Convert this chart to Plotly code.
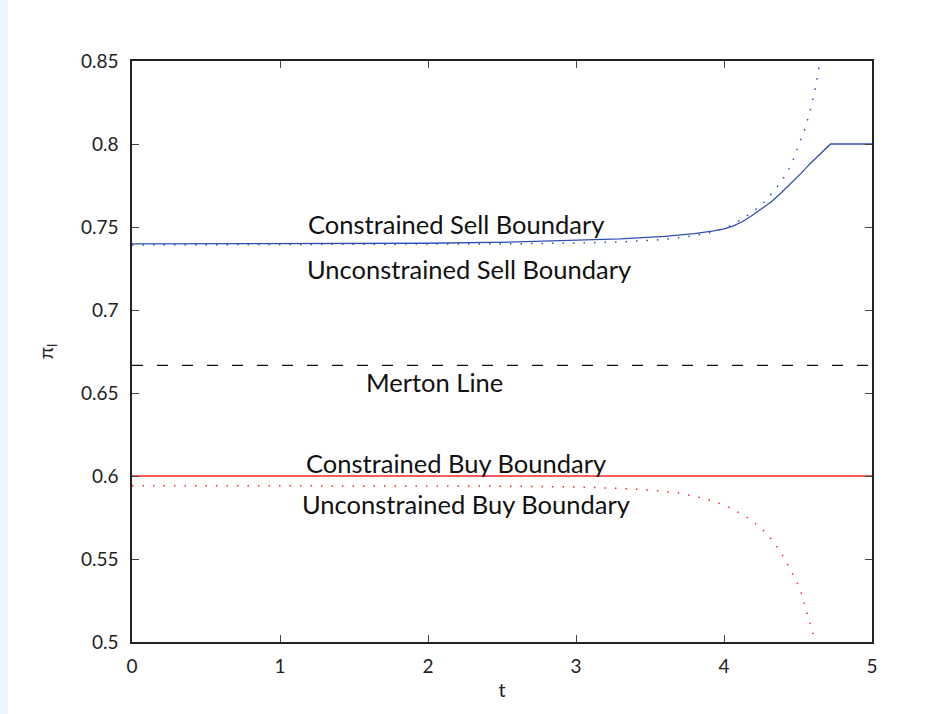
import plotly.graph_objects as go

# Time grid and boundary values (fraction of wealth in the risky asset)
t_sell_con = [0, 1, 2, 2.6, 3.0, 3.3, 3.6, 3.8, 3.93, 4.0, 4.06, 4.12, 4.18, 4.25,
              4.32, 4.38, 4.45, 4.52, 4.58, 4.65, 4.72, 5.0]
sell_con = [0.7398, 0.7399, 0.7402, 0.7410, 0.7418, 0.7428, 0.7444, 0.7460, 0.7476,
            0.7489, 0.7505, 0.7530, 0.7563, 0.7607, 0.7652, 0.7700, 0.7760, 0.7823,
            0.7880, 0.7940, 0.8000, 0.8000]

t_sell_unc = [0, 1, 2, 2.6, 3.0, 3.3, 3.6, 3.8, 3.9, 4.0, 4.07, 4.14, 4.2, 4.28, 4.36,
              4.42, 4.46, 4.51, 4.55, 4.58, 4.615, 4.65]
sell_unc = [0.7392, 0.7393, 0.7395, 0.7399, 0.7403, 0.7410, 0.7425, 0.7448, 0.7465,
            0.7490, 0.7520, 0.7558, 0.7596, 0.7657, 0.7743, 0.7820, 0.7887, 0.8000,
            0.8100, 0.8195, 0.8325, 0.8506]

t_merton = [0, 5]
merton = [2 / 3, 2 / 3]

t_buy_con = [0, 5]
buy_con = [0.6, 0.6]

t_buy_unc = [0, 1, 2, 2.5, 3.0, 3.16, 3.365, 3.556, 3.687, 3.815, 3.912, 4.032, 4.144,
             4.243, 4.327, 4.396, 4.459, 4.516, 4.563, 4.599, 4.615]
buy_unc = [0.5942, 0.5942, 0.5941, 0.5939, 0.5934, 0.5930, 0.5923, 0.5911, 0.5898,
           0.5875, 0.5854, 0.5813, 0.5759, 0.5693, 0.5613, 0.5520, 0.5420, 0.5313,
           0.5177, 0.5058, 0.5000]

x_ticks = [0, 1, 2, 3, 4, 5]
y_ticks = [0.5, 0.55, 0.6, 0.65, 0.7, 0.75, 0.8, 0.85]
y_tick_text = ["0.5", "0.55", "0.6", "0.65", "0.7", "0.75", "0.8", "0.85"]

BLUE = "#2f4fb0"
RED = "#f02828"
FONT = "Lato"

fig = go.Figure()
fig.add_trace(go.Scatter(x=t_sell_unc, y=sell_unc, mode="lines",
                         line=dict(color=BLUE, width=1.5, dash="1.5px,9px")))
fig.add_trace(go.Scatter(x=t_sell_con, y=sell_con, mode="lines",
                         line=dict(color=BLUE, width=1.3)))
fig.add_trace(go.Scatter(x=t_merton, y=merton, mode="lines",
                         line=dict(color="#111111", width=1.1, dash="11px,14px")))
fig.add_trace(go.Scatter(x=t_buy_unc, y=buy_unc, mode="lines",
                         line=dict(color=RED, width=1.5, dash="1.5px,9px")))
fig.add_trace(go.Scatter(x=t_buy_con, y=buy_con, mode="lines",
                         line=dict(color=RED, width=1.3)))

labels = [
    ("Constrained Sell Boundary", 2.186, 0.7521),
    ("Unconstrained Sell Boundary", 2.274, 0.7250),
    ("Merton Line", 2.044, 0.6568),
    ("Constrained Buy Boundary", 2.186, 0.6081),
    ("Unconstrained Buy Boundary", 2.26, 0.5831),
]
for text, x, y in labels:
    fig.add_annotation(x=x, y=y, text=text, showarrow=False,
                       xanchor="center", yanchor="middle",
                       font=dict(family=FONT, size=25.5, color="#111111"))

# light frame strip along the left and top edges of the page
fig.add_shape(type="rect", xref="paper", yref="paper",
              x0=-132 / 740, x1=-124 / 740, y0=-72 / 581, y1=653 / 581,
              fillcolor="#eef6fd", line=dict(width=0), layer="below")
fig.add_shape(type="rect", xref="paper", yref="paper",
              x0=-132 / 740, x1=813 / 740, y0=648 / 581, y1=653 / 581,
              fillcolor="#f3f9fe", line=dict(width=0), layer="below")

axis_common = dict(
    showgrid=False, zeroline=False, showline=True, linecolor="#222222",
    linewidth=1.5, mirror="allticks", ticks="inside", ticklen=7,
    tickwidth=1, tickcolor="#444444",
    tickfont=dict(family=FONT, size=19, color="#222222"),
)

fig.update_layout(
    width=945, height=714,
    margin=dict(l=132, r=73, t=61, b=72),
    paper_bgcolor="white", plot_bgcolor="white",
    showlegend=False,
    xaxis=dict(range=[0, 5], tickvals=x_ticks, ticklabelstandoff=6,
               title=dict(text="t", standoff=7,
                          font=dict(family=FONT, size=20, color="#222222")),
               **axis_common),
    yaxis=dict(range=[0.5, 0.85], tickvals=y_ticks, ticktext=y_tick_text,
               ticklabelstandoff=8,
               title=dict(text="π<sub>l</sub>", standoff=22,
                          font=dict(family=FONT, size=20, color="#222222")),
               **axis_common),
)

fig.write_html("out.html")
